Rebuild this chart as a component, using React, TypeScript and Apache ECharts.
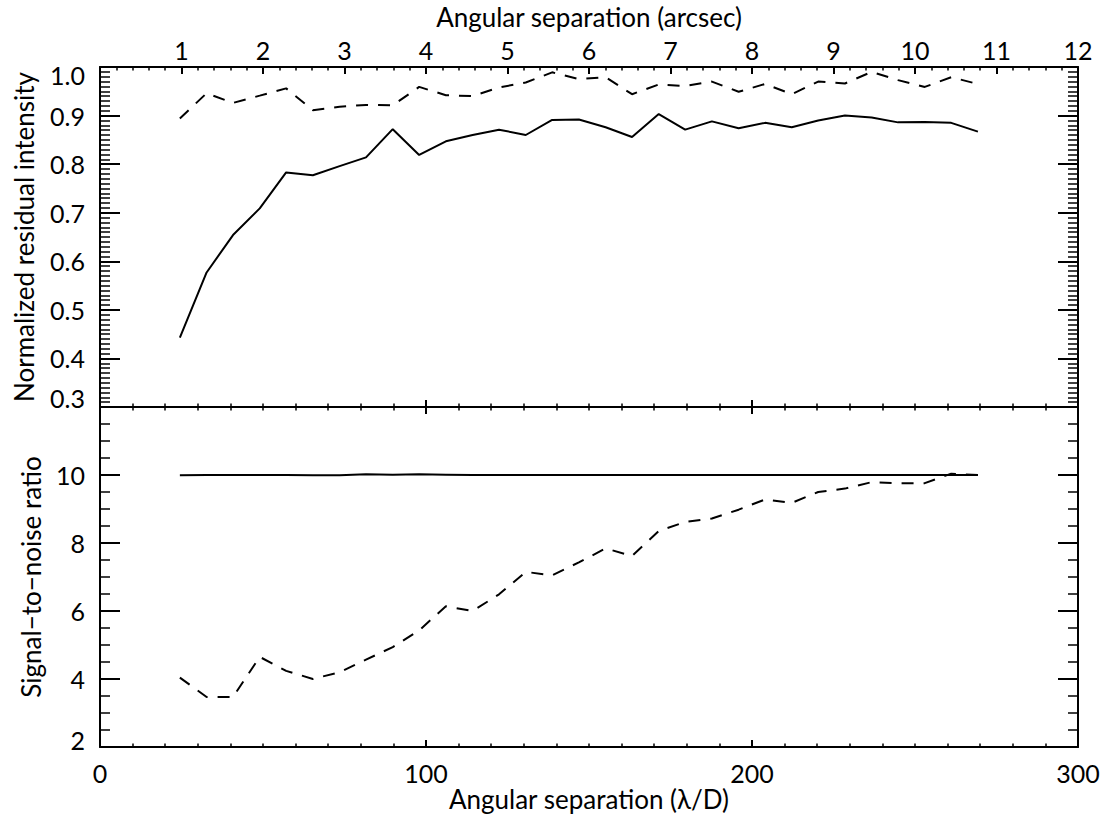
import React, { useEffect, useRef } from "react";
import * as echarts from "echarts";

// Angular separation (lambda/D) of the sampled points
const xLd = [
  24.5, 32.7, 40.8, 49.0, 57.1, 65.3, 73.5, 81.6, 89.8, 97.9, 106.1, 114.3, 122.4, 130.6, 138.7,
  146.9, 155.1, 163.2, 171.4, 179.5, 187.7, 195.9, 204.0, 212.2, 220.3, 228.5, 236.7, 244.8, 253.0,
  261.1, 269.3,
];

// Top panel: normalized residual intensity
const residualSolid = [
  0.443, 0.577, 0.654, 0.709, 0.783, 0.777, 0.796, 0.814, 0.872, 0.819, 0.847, 0.86, 0.871, 0.86,
  0.891, 0.892, 0.876, 0.856, 0.903, 0.871, 0.888, 0.874, 0.885, 0.876, 0.89, 0.9, 0.896, 0.886,
  0.887, 0.885, 0.867,
];
const residualDashed = [
  0.894, 0.946, 0.926, 0.941, 0.956, 0.911, 0.918, 0.922, 0.921, 0.959, 0.942, 0.94, 0.958, 0.968,
  0.989, 0.975, 0.979, 0.944, 0.964, 0.961, 0.97, 0.949, 0.965, 0.944, 0.97, 0.966, 0.99, 0.973,
  0.959, 0.979, 0.965,
];

// Bottom panel: signal-to-noise ratio
const snrSolid = [
  9.99, 10.0, 10.0, 10.0, 10.0, 9.99, 9.99, 10.02, 10.01, 10.02, 10.01, 10.0, 10.0, 10.0, 10.0,
  10.0, 10.0, 10.0, 10.0, 10.0, 10.0, 10.0, 10.0, 10.0, 10.0, 10.0, 10.0, 10.0, 10.0, 10.0, 10.0,
];
const snrDashed = [
  4.04, 3.47, 3.47, 4.65, 4.24, 4.0, 4.2, 4.57, 4.94, 5.43, 6.14, 6.0, 6.49, 7.15, 7.05, 7.43,
  7.84, 7.62, 8.35, 8.62, 8.72, 8.98, 9.28, 9.18, 9.5, 9.6, 9.79, 9.76, 9.76, 10.04, 10.0,
];

// Axis ranges / ticks
const ldRange = [0, 300];
const ldInterval = 100;
const arcsecRange = [0, 12];
const residualRange = [0.3, 1.0];
const snrRange = [2, 12];

const FONT = "Lato";
const BLACK = "#000";

function pairs(ys: number[]) {
  return xLd.map((x, i) => [x, ys[i]]);
}

export default function App() {
  const ref = useRef<HTMLDivElement>(null);

  useEffect(() => {
    document.body.style.margin = "0";
    if (!ref.current) return;
    const chart = echarts.init(ref.current, null, { renderer: "svg" });

    const axisLine = { show: true, onZero: false, lineStyle: { color: BLACK, width: 2 } };
    const xTick = { show: true, inside: true, length: 7, lineStyle: { color: BLACK, width: 2 } };
    const yTick = { show: true, inside: true, length: 20, lineStyle: { color: BLACK, width: 2 } };
    const labelBase = { color: BLACK, fontSize: 25, lineHeight: 25, fontFamily: FONT };
    const nameBase = { color: BLACK, fontSize: 26, lineHeight: 26, fontFamily: FONT };

    const ldAxis = (gridIndex: number, position: string, showLabel: boolean, name?: string) => ({
      type: "value",
      gridIndex,
      position,
      min: ldRange[0],
      max: ldRange[1],
      interval: ldInterval,
      axisLine,
      axisTick: xTick,
      minorTick: { show: true, splitNumber: 10, length: 3.5, lineStyle: { color: BLACK, width: 1.5 } },
      splitLine: { show: false },
      axisLabel: { show: showLabel, ...labelBase, margin: 13 },
      name,
      nameLocation: "middle",
      nameGap: 38,
      nameTextStyle: nameBase,
    });

    const option: any = {
      animation: false,
      backgroundColor: "#fff",
      grid: [
        { left: 100, top: 67, width: 978, height: 340, containLabel: false, outerBoundsMode: "none" },
        { left: 100, top: 407, width: 978, height: 340, containLabel: false, outerBoundsMode: "none" },
      ],
      xAxis: [
        ldAxis(0, "bottom", false),
        {
          type: "value",
          gridIndex: 0,
          position: "top",
          min: arcsecRange[0],
          max: arcsecRange[1],
          interval: 1,
          axisLine,
          axisTick: xTick,
          minorTick: { show: true, splitNumber: 5, length: 3.5, lineStyle: { color: BLACK, width: 1.5 } },
          splitLine: { show: false },
          axisLabel: {
            ...labelBase,
            margin: 5,
            formatter: (v: number) => (v === 0 ? "" : String(v)),
          },
          name: "Angular separation (arcsec)",
          nameLocation: "middle",
          nameGap: 37,
          nameTextStyle: nameBase,
        },
        ldAxis(1, "top", false),
        ldAxis(1, "bottom", true, "Angular separation (λ/D)"),
      ],
      yAxis: [
        {
          type: "value",
          gridIndex: 0,
          position: "left",
          min: residualRange[0],
          max: residualRange[1],
          interval: 0.1,
          axisLine,
          axisTick: yTick,
          minorTick: { show: true, splitNumber: 10, length: 10, lineStyle: { color: BLACK, width: 1.5 } },
          splitLine: { show: false },
          axisLabel: {
            ...labelBase,
            margin: 15,
            formatter: (v: number) => {
              const s = v.toFixed(1);
              if (v > 0.999) return "{hi|" + s + "}";
              if (v < 0.301) return "{lo|" + s + "}";
              return s;
            },
            rich: {
              hi: { ...labelBase, padding: [16, 0, 0, 0] },
              lo: { ...labelBase, padding: [0, 0, 18, 0] },
            },
          },
          name: "Normalized residual intensity",
          nameLocation: "middle",
          nameGap: 63,
          nameTextStyle: nameBase,
        },
        {
          type: "value",
          gridIndex: 0,
          position: "right",
          min: residualRange[0],
          max: residualRange[1],
          interval: 0.1,
          axisLine,
          axisTick: yTick,
          minorTick: { show: true, splitNumber: 10, length: 10, lineStyle: { color: BLACK, width: 1.5 } },
          splitLine: { show: false },
          axisLabel: { show: false },
        },
        {
          type: "value",
          gridIndex: 1,
          position: "left",
          min: snrRange[0],
          max: snrRange[1],
          interval: 2,
          axisLine,
          axisTick: yTick,
          minorTick: { show: true, splitNumber: 4, length: 10, lineStyle: { color: BLACK, width: 1.5 } },
          splitLine: { show: false },
          axisLabel: {
            ...labelBase,
            margin: 15,
            formatter: (v: number) => {
              if (v >= 12) return "";
              if (v <= 2) return "{lo|" + v + "}";
              return String(v);
            },
            rich: { lo: { ...labelBase, padding: [0, 0, 14, 0] } },
          },
          name: "Signal−to−noise ratio",
          nameLocation: "middle",
          nameGap: 56,
          nameTextStyle: nameBase,
        },
        {
          type: "value",
          gridIndex: 1,
          position: "right",
          min: snrRange[0],
          max: snrRange[1],
          interval: 2,
          axisLine,
          axisTick: yTick,
          minorTick: { show: true, splitNumber: 4, length: 10, lineStyle: { color: BLACK, width: 1.5 } },
          splitLine: { show: false },
          axisLabel: { show: false },
        },
      ],
      series: [
        {
          type: "line",
          xAxisIndex: 0,
          yAxisIndex: 0,
          data: pairs(residualSolid),
          showSymbol: false,
          symbol: "none",
          lineStyle: { color: BLACK, width: 2 },
        },
        {
          type: "line",
          xAxisIndex: 0,
          yAxisIndex: 0,
          data: pairs(residualDashed),
          showSymbol: false,
          symbol: "none",
          lineStyle: { color: BLACK, width: 2, type: [12, 10] },
        },
        {
          type: "line",
          xAxisIndex: 3,
          yAxisIndex: 2,
          data: pairs(snrSolid),
          showSymbol: false,
          symbol: "none",
          lineStyle: { color: BLACK, width: 2 },
        },
        {
          type: "line",
          xAxisIndex: 3,
          yAxisIndex: 2,
          data: pairs(snrDashed),
          showSymbol: false,
          symbol: "none",
          lineStyle: { color: BLACK, width: 2, type: [12, 10] },
        },
      ],
    };

    chart.setOption(option);
    return () => chart.dispose();
  }, []);

  return <div ref={ref} style={{ width: 1101, height: 819 }} />;
}
